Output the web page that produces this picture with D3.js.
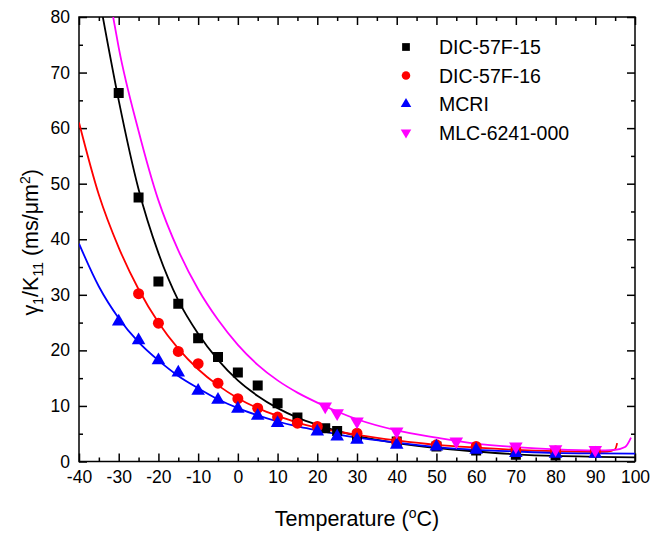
<!DOCTYPE html>
<html>
<head>
<meta charset="utf-8">
<script src="https://cdn.jsdelivr.net/npm/d3@7"></script>
<style>
  body { margin: 0; background: #fff; }
  svg text { font-family: "Liberation Sans", Arial, sans-serif; }
</style>
</head>
<body>
<svg id="chart"></svg>
<script>
var width = 651, height = 534;

// measured points
var t15 = [-30, -25, -20, -15, -10, -5, 0, 5, 10, 15, 22, 25, 30, 40, 50, 60, 70, 80];
var v15 = [66.3, 47.5, 32.4, 28.4, 22.2, 18.8, 16.0, 13.7, 10.5, 7.9, 6.0, 5.5, 4.6, 3.6, 2.7, 2.0, 1.2, 1.1];

var t16 = [-25, -20, -15, -10, -5, 0, 5, 10, 15, 20, 30, 40, 50, 60, 70, 80, 90];
var v16 = [30.2, 24.9, 19.8, 17.6, 14.1, 11.3, 9.6, 8.0, 6.9, 6.3, 5.1, 3.6, 3.0, 2.7, 2.1, 1.9, 1.8];

var tMcri = [-30, -25, -20, -15, -10, -5, 0, 5, 10, 20, 25, 30, 40, 50, 60, 70, 80, 90];
var vMcri = [25.2, 21.8, 18.2, 16.0, 12.7, 11.1, 9.5, 8.2, 6.9, 5.4, 4.5, 3.9, 3.0, 2.7, 2.1, 1.5, 1.4, 1.4];

var tMlc = [22, 25, 30, 40, 55, 70, 80, 90];
var vMlc = [9.9, 8.7, 7.2, 5.4, 3.6, 2.7, 2.2, 2.1];

// fitted curves
var fitT15 = [-34, -30, -25, -20, -15, -10, -5, 0, 5, 10, 15, 20, 25, 30, 40, 50, 60, 70, 80, 90, 100];
var fitV15 = [80, 65, 49, 37.5, 29, 23, 18.3, 14.6, 11.8, 9.6, 7.9, 6.6, 5.5, 4.6, 3.3, 2.4, 1.8, 1.3, 1.0, 0.85, 0.75];

var fitT16 = [-40, -35, -30, -25, -20, -15, -10, -5, 0, 5, 10, 15, 20, 25, 30, 40, 50, 60, 70, 80, 90, 93, 95, 95.5];
var fitV16 = [61, 48, 38.5, 31, 25, 20.3, 16.6, 13.7, 11.4, 9.6, 8.2, 7.0, 6.1, 5.4, 4.8, 3.8, 3.0, 2.5, 2.1, 1.85, 1.75, 1.8, 2.2, 3.3];

var fitTMcri = [-40, -35, -30, -25, -20, -15, -10, -5, 0, 5, 10, 15, 20, 25, 30, 40, 50, 60, 70, 80, 90, 100];
var fitVMcri = [39.2, 31.5, 25.8, 21.5, 18.2, 15.4, 13.2, 11.2, 9.6, 8.3, 7.2, 6.3, 5.6, 4.9, 4.3, 3.4, 2.6, 2.1, 1.8, 1.55, 1.45, 1.4];

var fitTMlc = [-31.4, -30, -25, -20, -15, -10, -5, 0, 5, 10, 15, 20, 25, 30, 40, 50, 60, 70, 80, 90, 95, 97.5, 99];
var fitVMlc = [80, 74.5, 59.5, 47, 38, 31, 25.5, 21, 17.4, 14.6, 12.4, 10.6, 9.0, 7.6, 5.6, 4.3, 3.2, 2.6, 2.2, 2.0, 2.1, 2.6, 4.3];

var names = ["DIC-57F-15", "DIC-57F-16", "MCRI", "MLC-6241-000"];
var colors = ["#000000", "#ff0000", "#0000ff", "#ff00ff"];
var xTicks = [-40, -30, -20, -10, 0, 10, 20, 30, 40, 50, 60, 70, 80, 90, 100];
var yTicks = [0, 10, 20, 30, 40, 50, 60, 70, 80];

var svg = d3.select('#chart').attr('width', width).attr('height', height);

var pLeft = 79, pRight = 635, pTop = 17, pBottom = 461.5;

var x = d3.scaleLinear().domain([-40, 100]).range([pLeft, pRight]);
var y = d3.scaleLinear().domain([0, 80]).range([pBottom, pTop]);

var minorX = d3.range(-35, 100, 10);
var minorY = d3.range(5, 80, 10);
var plainNum = function(d) { return String(d); };

svg.append("clipPath").attr("id", "plotclip")
   .append("rect").attr("x", pLeft).attr("y", pTop).attr("width", pRight - pLeft).attr("height", pBottom - pTop);

function styleAxis(g) {
  g.select(".domain").remove();
  g.selectAll("line").attr("stroke", "#000").attr("stroke-width", 1.5);
  g.selectAll("text").attr("font-size", 17.5).attr("fill", "#000");
}

// bottom axis
svg.append("g").attr("transform", "translate(0," + pBottom + ")")
   .call(d3.axisBottom(x).tickValues(xTicks).tickSizeInner(-8).tickSizeOuter(0).tickPadding(9).tickFormat(plainNum))
   .call(styleAxis);
svg.append("g").attr("transform", "translate(0," + pBottom + ")")
   .call(d3.axisBottom(x).tickValues(minorX).tickSizeInner(-4).tickSizeOuter(0).tickFormat(""))
   .call(styleAxis);
// top axis
svg.append("g").attr("transform", "translate(0," + pTop + ")")
   .call(d3.axisTop(x).tickValues(xTicks).tickSizeInner(-8).tickSizeOuter(0).tickFormat(""))
   .call(styleAxis);
svg.append("g").attr("transform", "translate(0," + pTop + ")")
   .call(d3.axisTop(x).tickValues(minorX).tickSizeInner(-4).tickSizeOuter(0).tickFormat(""))
   .call(styleAxis);
// left axis
svg.append("g").attr("transform", "translate(" + pLeft + ",0)")
   .call(d3.axisLeft(y).tickValues(yTicks).tickSizeInner(-8).tickSizeOuter(0).tickPadding(9).tickFormat(plainNum))
   .call(styleAxis);
svg.append("g").attr("transform", "translate(" + pLeft + ",0)")
   .call(d3.axisLeft(y).tickValues(minorY).tickSizeInner(-4).tickSizeOuter(0).tickFormat(""))
   .call(styleAxis);
// right axis
svg.append("g").attr("transform", "translate(" + pRight + ",0)")
   .call(d3.axisRight(y).tickValues(yTicks).tickSizeInner(-8).tickSizeOuter(0).tickFormat(""))
   .call(styleAxis);
svg.append("g").attr("transform", "translate(" + pRight + ",0)")
   .call(d3.axisRight(y).tickValues(minorY).tickSizeInner(-4).tickSizeOuter(0).tickFormat(""))
   .call(styleAxis);

// frame
svg.append("rect").attr("x", pLeft).attr("y", pTop).attr("width", pRight - pLeft).attr("height", pBottom - pTop)
   .attr("fill", "none").attr("stroke", "#000").attr("stroke-width", 1.5);

// fit lines
var line = d3.line().x(function(d) { return x(d[0]); }).y(function(d) { return y(d[1]); })
             .curve(d3.curveMonotoneX);
var fits = [[fitT15, fitV15], [fitT16, fitV16], [fitTMcri, fitVMcri], [fitTMlc, fitVMlc]];
var plot = svg.append("g").attr("clip-path", "url(#plotclip)");
fits.forEach(function(f, i) {
  var pts = f[0].map(function(t, j) { return [t, f[1][j]]; });
  plot.append("path").attr("d", line(pts)).attr("fill", "none")
      .attr("stroke", colors[i]).attr("stroke-width", 1.8);
});

// markers
var symbols = [d3.symbolSquare, d3.symbolCircle, d3.symbolTriangle, d3.symbolTriangle];
var sizes = [100, 95, 80, 80];
var pointSets = [[t15, v15], [t16, v16], [tMcri, vMcri], [tMlc, vMlc]];
pointSets.forEach(function(p, i) {
  var rot = i == 3 ? " rotate(180)" : "";
  plot.selectAll(".pt" + i).data(p[0]).enter().append("path")
      .attr("class", "pt" + i)
      .attr("d", d3.symbol().type(symbols[i]).size(sizes[i]))
      .attr("transform", function(t, j) { return "translate(" + x(t) + "," + y(p[1][j]) + ")" + rot; })
      .attr("fill", colors[i]);
});

// legend
var legend = svg.append("g");
names.forEach(function(n, i) {
  var ly = 47 + i * 28.5;
  var rot = i == 3 ? " rotate(180)" : "";
  legend.append("path").attr("d", d3.symbol().type(symbols[i]).size(sizes[i] * 0.6))
        .attr("transform", "translate(406," + ly + ")" + rot).attr("fill", colors[i]);
  legend.append("text").attr("x", 439).attr("y", ly + 7).attr("font-size", 19.5).text(n);
});

// axis titles
var xt = svg.append("text").attr("x", (pLeft + pRight) / 2).attr("y", 526).attr("text-anchor", "middle")
            .attr("font-size", 21.5);
xt.append("tspan").text("Temperature (");
xt.append("tspan").attr("font-size", 14).attr("dy", -8).text("o");
xt.append("tspan").attr("dy", 8).text("C)");

var yt = svg.append("text").attr("transform", "translate(38," + ((pTop + pBottom) / 2 + 3) + ") rotate(-90)")
            .attr("text-anchor", "middle").attr("font-size", 21.5);
yt.append("tspan").text("γ");
yt.append("tspan").attr("font-size", 14).attr("dy", 5).text("1");
yt.append("tspan").attr("dy", -5).text("/K");
yt.append("tspan").attr("font-size", 14).attr("dy", 5).text("11");
yt.append("tspan").attr("dy", -5).text(" (ms/μm");
yt.append("tspan").attr("font-size", 14).attr("dy", -8).text("2");
yt.append("tspan").attr("dy", 8).text(")");
</script>
</body>
</html>
